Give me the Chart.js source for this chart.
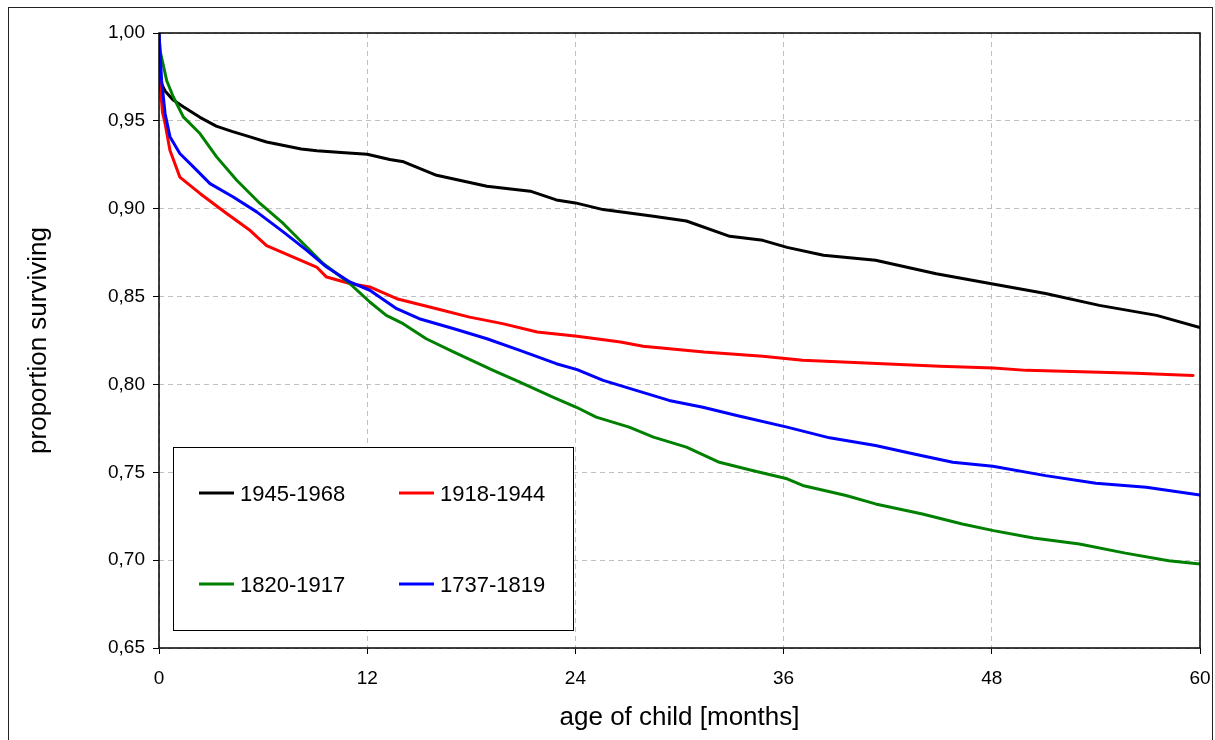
<!DOCTYPE html>
<html>
<head>
<meta charset="utf-8">
<title>proportion surviving</title>
<script src="https://cdn.jsdelivr.net/npm/chart.js@4.4.1/dist/chart.umd.min.js"></script>
<style>
  html, body { margin: 0; padding: 0; background: #fff; }
  #wrap { width: 1215px; height: 740px; position: relative; }
</style>
</head>
<body>
<div id="wrap"><canvas id="survival-chart"></canvas></div>
<script>
const FONT = "Arial, 'Liberation Sans', sans-serif"

const seriesLabels = ['1945-1968', '1918-1944', '1820-1917', '1737-1819']
const seriesColors = ['#000000', '#ff0000', '#008000', '#0000ff']

// age of child (months) / proportion surviving
const age1945 = [0, 0.1, 0.35, 0.8, 1.4, 2.36, 3.3, 4.2, 5.2, 6.2, 7.2, 8.2, 9.1, 10.5, 12, 13.3, 14.1, 16, 18.9, 21.4, 22.9, 24, 25.6, 28.5, 30.4, 32.9, 34.8, 36.2, 38.3, 41.3, 44.8, 47.9, 51.1, 54.2, 57.5, 60]
const surv1945 = [1.0, 0.972, 0.967, 0.962, 0.958, 0.952, 0.947, 0.944, 0.941, 0.938, 0.936, 0.934, 0.933, 0.932, 0.931, 0.928, 0.9267, 0.919, 0.9128, 0.910, 0.905, 0.9033, 0.8995, 0.8957, 0.893, 0.8843, 0.882, 0.878, 0.8735, 0.8707, 0.863, 0.8574, 0.8517, 0.845, 0.8393, 0.8323]

const age1918 = [0, 0.03, 0.2, 0.35, 0.63, 1.2, 2.36, 3.9, 5.24, 6.2, 7.74, 9.08, 9.66, 11, 12.15, 13.7, 16, 17.9, 19.8, 21.8, 24.1, 26.6, 27.9, 31.4, 34.8, 37.1, 40.4, 45, 48.1, 50, 56.3, 59.6]
const surv1918 = [1.0, 0.975, 0.955, 0.9485, 0.9333, 0.918, 0.9087, 0.8973, 0.8877, 0.879, 0.8725, 0.8668, 0.8611, 0.8574, 0.8555, 0.8488, 0.8431, 0.8383, 0.8346, 0.8298, 0.8274, 0.8241, 0.8217, 0.8184, 0.816, 0.8137, 0.8124, 0.8103, 0.8093, 0.808, 0.8064, 0.8051]

const age1820 = [0, 0.06, 0.44, 0.82, 1.4, 2.36, 3.32, 4.48, 5.82, 7.16, 8.31, 9.46, 11, 12.15, 13.1, 14.07, 15.4, 17, 19.26, 20.8, 22.7, 24.06, 25.2, 27.1, 28.5, 30.4, 32.3, 34.2, 36.2, 37.1, 39.6, 41.3, 44, 46.3, 48.1, 50.4, 53.05, 55.7, 58.2, 60]
const surv1820 = [1.0, 0.99, 0.973, 0.9637, 0.9523, 0.9428, 0.9295, 0.9162, 0.903, 0.8916, 0.8802, 0.8688, 0.8574, 0.8469, 0.8393, 0.8346, 0.826, 0.8184, 0.808, 0.8013, 0.7928, 0.787, 0.7814, 0.7757, 0.77, 0.7643, 0.7557, 0.751, 0.7463, 0.7425, 0.7368, 0.732, 0.7263, 0.7206, 0.7168, 0.7126, 0.7092, 0.704, 0.6997, 0.6978]

const age1737 = [0, 0.15, 0.35, 0.63, 1.2, 1.98, 2.94, 4.28, 5.63, 7.16, 8.5, 9.66, 11, 12.15, 13.7, 15, 17, 18.9, 20.8, 22.9, 24.1, 25.6, 27.5, 29.4, 31.35, 33.3, 36.2, 38.65, 41.3, 43.45, 45.75, 48.06, 51.1, 54, 56.9, 60]
const surv1737 = [1.0, 0.973, 0.9542, 0.941, 0.9314, 0.9238, 0.9143, 0.9067, 0.8982, 0.8868, 0.8764, 0.8668, 0.8583, 0.8536, 0.8431, 0.8374, 0.8317, 0.826, 0.8194, 0.8118, 0.8084, 0.8023, 0.7966, 0.7909, 0.787, 0.7823, 0.7757, 0.7696, 0.7652, 0.7605, 0.7557, 0.7534, 0.7481, 0.7438, 0.7415, 0.7371]

const xTicks = [0, 12, 24, 36, 48, 60]
const yTicks = [0.65, 0.70, 0.75, 0.80, 0.85, 0.90, 0.95, 1.00]

const ages = [age1945, age1918, age1820, age1737]
const survs = [surv1945, surv1918, surv1820, surv1737]

function toPoints(a, s){
    return a.map((m, i) => ({x: m, y: s[i]}))
}

// legend box sitting inside the plot, bottom left, two columns
const boxLegend = {
    id: 'boxLegend',
    afterDatasetsDraw(chart){
        const {ctx, chartArea} = chart
        const left = chartArea.left + 14
        const top = chartArea.bottom - 201
        const w = 400, h = 183
        ctx.save()
        ctx.fillStyle = '#fff'
        ctx.fillRect(left, top, w, h)
        ctx.strokeStyle = '#000'
        ctx.lineWidth = 1
        ctx.strokeRect(left + 0.5, top + 0.5, w, h)
        ctx.font = '22px ' + FONT
        ctx.textBaseline = 'middle'
        ctx.textAlign = 'left'
        chart.data.datasets.forEach((ds, i) => {
            const col = i % 2
            const row = Math.floor(i / 2)
            const lx = left + 26 + col * 200
            const ly = top + 46 + row * 91
            ctx.strokeStyle = ds.borderColor
            ctx.lineWidth = 3
            ctx.beginPath()
            ctx.moveTo(lx, ly)
            ctx.lineTo(lx + 35, ly)
            ctx.stroke()
            ctx.fillStyle = '#000'
            ctx.fillText(ds.label, lx + 41, ly + 1.5)
        })
        ctx.restore()
    }
}

// plot frame and outer border
const frames = {
    id: 'frames',
    afterDraw(chart){
        const {ctx, chartArea} = chart
        ctx.save()
        ctx.strokeStyle = '#000'
        ctx.lineWidth = 1.5
        ctx.strokeRect(chartArea.left, chartArea.top, chartArea.right - chartArea.left, chartArea.bottom - chartArea.top)
        ctx.lineWidth = 1
        ctx.strokeStyle = '#222'
        ctx.strokeRect(8.5, 7.5, 1204, 760)
        ctx.restore()
    }
}

const canvas = document.getElementById('survival-chart')

new Chart(canvas, {
    type: 'line',
    data: {
        datasets: seriesLabels.map((label, i) => ({
            label: label,
            data: toPoints(ages[i], survs[i]),
            borderColor: seriesColors[i],
            backgroundColor: seriesColors[i],
            borderWidth: 3,
            pointRadius: 0,
            tension: 0,
            fill: false,
            order: 4 - i
        }))
    },
    options: {
        responsive: true,
        maintainAspectRatio: false,
        animation: false,
        layout: {padding: {top: 33, right: 15, left: 0, bottom: 0}},
        plugins: {
            legend: {display: false},
            tooltip: {enabled: false}
        },
        elements: {line: {borderJoinStyle: 'round', borderCapStyle: 'round'}},
        scales: {
            x: {
                type: 'linear',
                min: 0,
                max: 60,
                afterBuildTicks: scale => { scale.ticks = xTicks.map(v => ({value: v})) },
                afterFit: scale => {
                    scale.height = 92
                    scale.paddingLeft = 0
                    scale.paddingRight = 0
                },
                grid: {color: '#c0c0c0', lineWidth: 1, tickColor: '#000', tickLength: 6, tickWidth: 1, tickBorderDash: []},
                border: {display: false, dash: [5, 4]},
                ticks: {font: {family: FONT, size: 19}, color: '#000', padding: 13, maxRotation: 0, autoSkip: false},
                title: {display: true, text: 'age of child [months]', color: '#000', font: {family: FONT, size: 26}, padding: {top: 0, bottom: 7}}
            },
            y: {
                type: 'linear',
                min: 0.65,
                max: 1.0,
                afterBuildTicks: scale => { scale.ticks = yTicks.map(v => ({value: v})) },
                afterFit: scale => { scale.width = 159 },
                grid: {color: '#c0c0c0', lineWidth: 1, tickColor: '#000', tickLength: 6, tickWidth: 1, tickBorderDash: []},
                border: {display: false, dash: [5, 4]},
                ticks: {
                    font: {family: FONT, size: 19},
                    color: '#000',
                    padding: 8,
                    autoSkip: false,
                    callback: v => v.toFixed(2).replace('.', ',')
                },
                title: {display: true, text: 'proportion surviving', color: '#000', font: {family: FONT, size: 26}, padding: {top: 23, bottom: 0}}
            }
        }
    },
    plugins: [boxLegend, frames]
})
</script>
</body>
</html>
